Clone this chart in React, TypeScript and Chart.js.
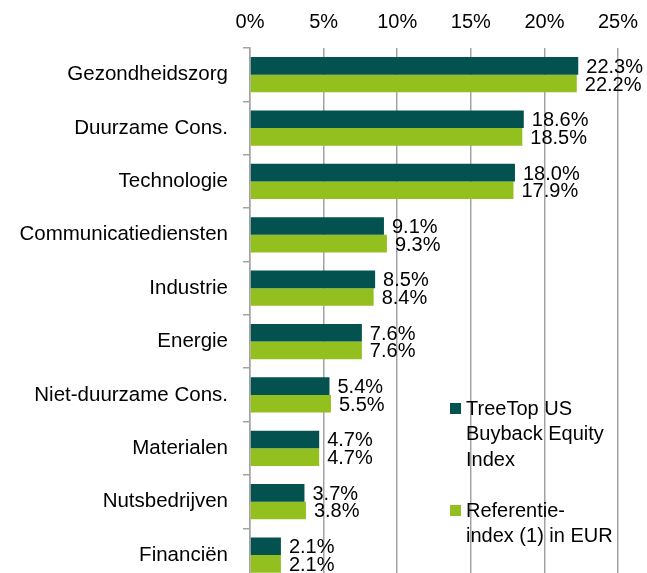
import React, { useEffect, useRef } from "react";
import { Chart, registerables } from "chart.js";

Chart.register(...registerables);

const categories = [
  "Gezondheidszorg",
  "Duurzame Cons.",
  "Technologie",
  "Communicatiediensten",
  "Industrie",
  "Energie",
  "Niet-duurzame Cons.",
  "Materialen",
  "Nutsbedrijven",
  "Financiën",
];
const treeTop = [22.3, 18.6, 18.0, 9.1, 8.5, 7.6, 5.4, 4.7, 3.7, 2.1];
const referentie = [22.2, 18.5, 17.9, 9.3, 8.4, 7.6, 5.5, 4.7, 3.8, 2.1];
const seriesNames = [
  ["TreeTop US", "Buyback Equity", "Index"],
  ["Referentie-", "index (1) in EUR"],
];
const xTicks = [0, 5, 10, 15, 20, 25];

const DARK = "#03524F";
const LIME = "#93C01F";
const GRID = "#a3a3a3";
const FONT = "'Liberation Sans', Arial, sans-serif";

const dataLabels = {
  id: "dataLabels",
  afterDatasetsDraw(chart: any) {
    const ctx = chart.ctx;
    ctx.save();
    ctx.font = `20px ${FONT}`;
    ctx.fillStyle = "#000";
    ctx.textAlign = "left";
    ctx.textBaseline = "middle";
    chart.data.datasets.forEach((ds: any, i: number) => {
      const meta = chart.getDatasetMeta(i);
      meta.data.forEach((bar: any, j: number) => {
        ctx.fillText(ds.data[j].toFixed(1) + "%", bar.x + 8, bar.y + 1.5);
      });
    });
    ctx.restore();
  },
};

const customLegend = {
  id: "customLegend",
  afterDraw(chart: any) {
    const ctx = chart.ctx;
    const area = chart.chartArea;
    const colors = [DARK, LIME];
    const x0 = area.left + 200;
    const starts = [area.top + 361, area.top + 463];
    ctx.save();
    ctx.font = `20px ${FONT}`;
    ctx.fillStyle = "#000";
    ctx.textAlign = "left";
    ctx.textBaseline = "middle";
    seriesNames.forEach((lines, i) => {
      const y = starts[i];
      ctx.fillStyle = colors[i];
      ctx.fillRect(x0, y - 6, 11, 11);
      ctx.fillStyle = "#000";
      lines.forEach((line, k) => {
        ctx.fillText(line, x0 + 16, y + k * 25.5);
      });
    });
    ctx.restore();
  },
};

const CANVAS_H = 609;

export default function App() {
  const ref = useRef<HTMLCanvasElement>(null);
  useEffect(() => {
    if (!ref.current) return;
    const chart = new Chart(ref.current, {
      type: "bar",
      data: {
        labels: categories,
        datasets: [
          {
            label: seriesNames[0].join(" "),
            data: treeTop,
            backgroundColor: DARK,
            categoryPercentage: 0.66,
            barPercentage: 1.0,
          },
          {
            label: seriesNames[1].join(" "),
            data: referentie,
            backgroundColor: LIME,
            categoryPercentage: 0.66,
            barPercentage: 1.0,
          },
        ],
      },
      options: {
        indexAxis: "y",
        responsive: false,
        animation: false,
        devicePixelRatio: 1,
        layout: { padding: { left: 0, right: 29, top: 0, bottom: 2 } },
        plugins: {
          legend: { display: false },
          tooltip: { enabled: false },
        },
        scales: {
          x: {
            position: "top",
            min: 0,
            max: 25,
            afterBuildTicks(scale: any) {
              scale.ticks = xTicks.map((v) => ({ value: v }));
            },
            afterFit(scale: any) {
              scale.height = 48;
              scale.paddingLeft = 0;
              scale.paddingRight = 0;
            },
            ticks: {
              color: "#000",
              font: { family: FONT, size: 20 },
              padding: 14,
              callback: (v: any) => v + "%",
            },
            grid: { color: GRID, lineWidth: 1.5, drawTicks: false },
            border: { display: false },
          },
          y: {
            afterFit(scale: any) {
              scale.width = 250;
            },
            ticks: {
              color: "#000",
              font: { family: FONT, size: 20.5 },
              padding: 15,
            },
            grid: {
              offset: true,
              drawOnChartArea: false,
              drawTicks: true,
              tickLength: 7,
              color: GRID,
              lineWidth: 1.5,
            },
            border: { display: true, color: GRID, width: 1.5 },
          },
        },
      },
      plugins: [dataLabels, customLegend],
    });
    return () => chart.destroy();
  }, []);
  return (
    <div style={{ position: "absolute", left: 0, top: 0, width: 647, height: CANVAS_H }}>
      <canvas ref={ref} width={647} height={CANVAS_H} />
    </div>
  );
}
